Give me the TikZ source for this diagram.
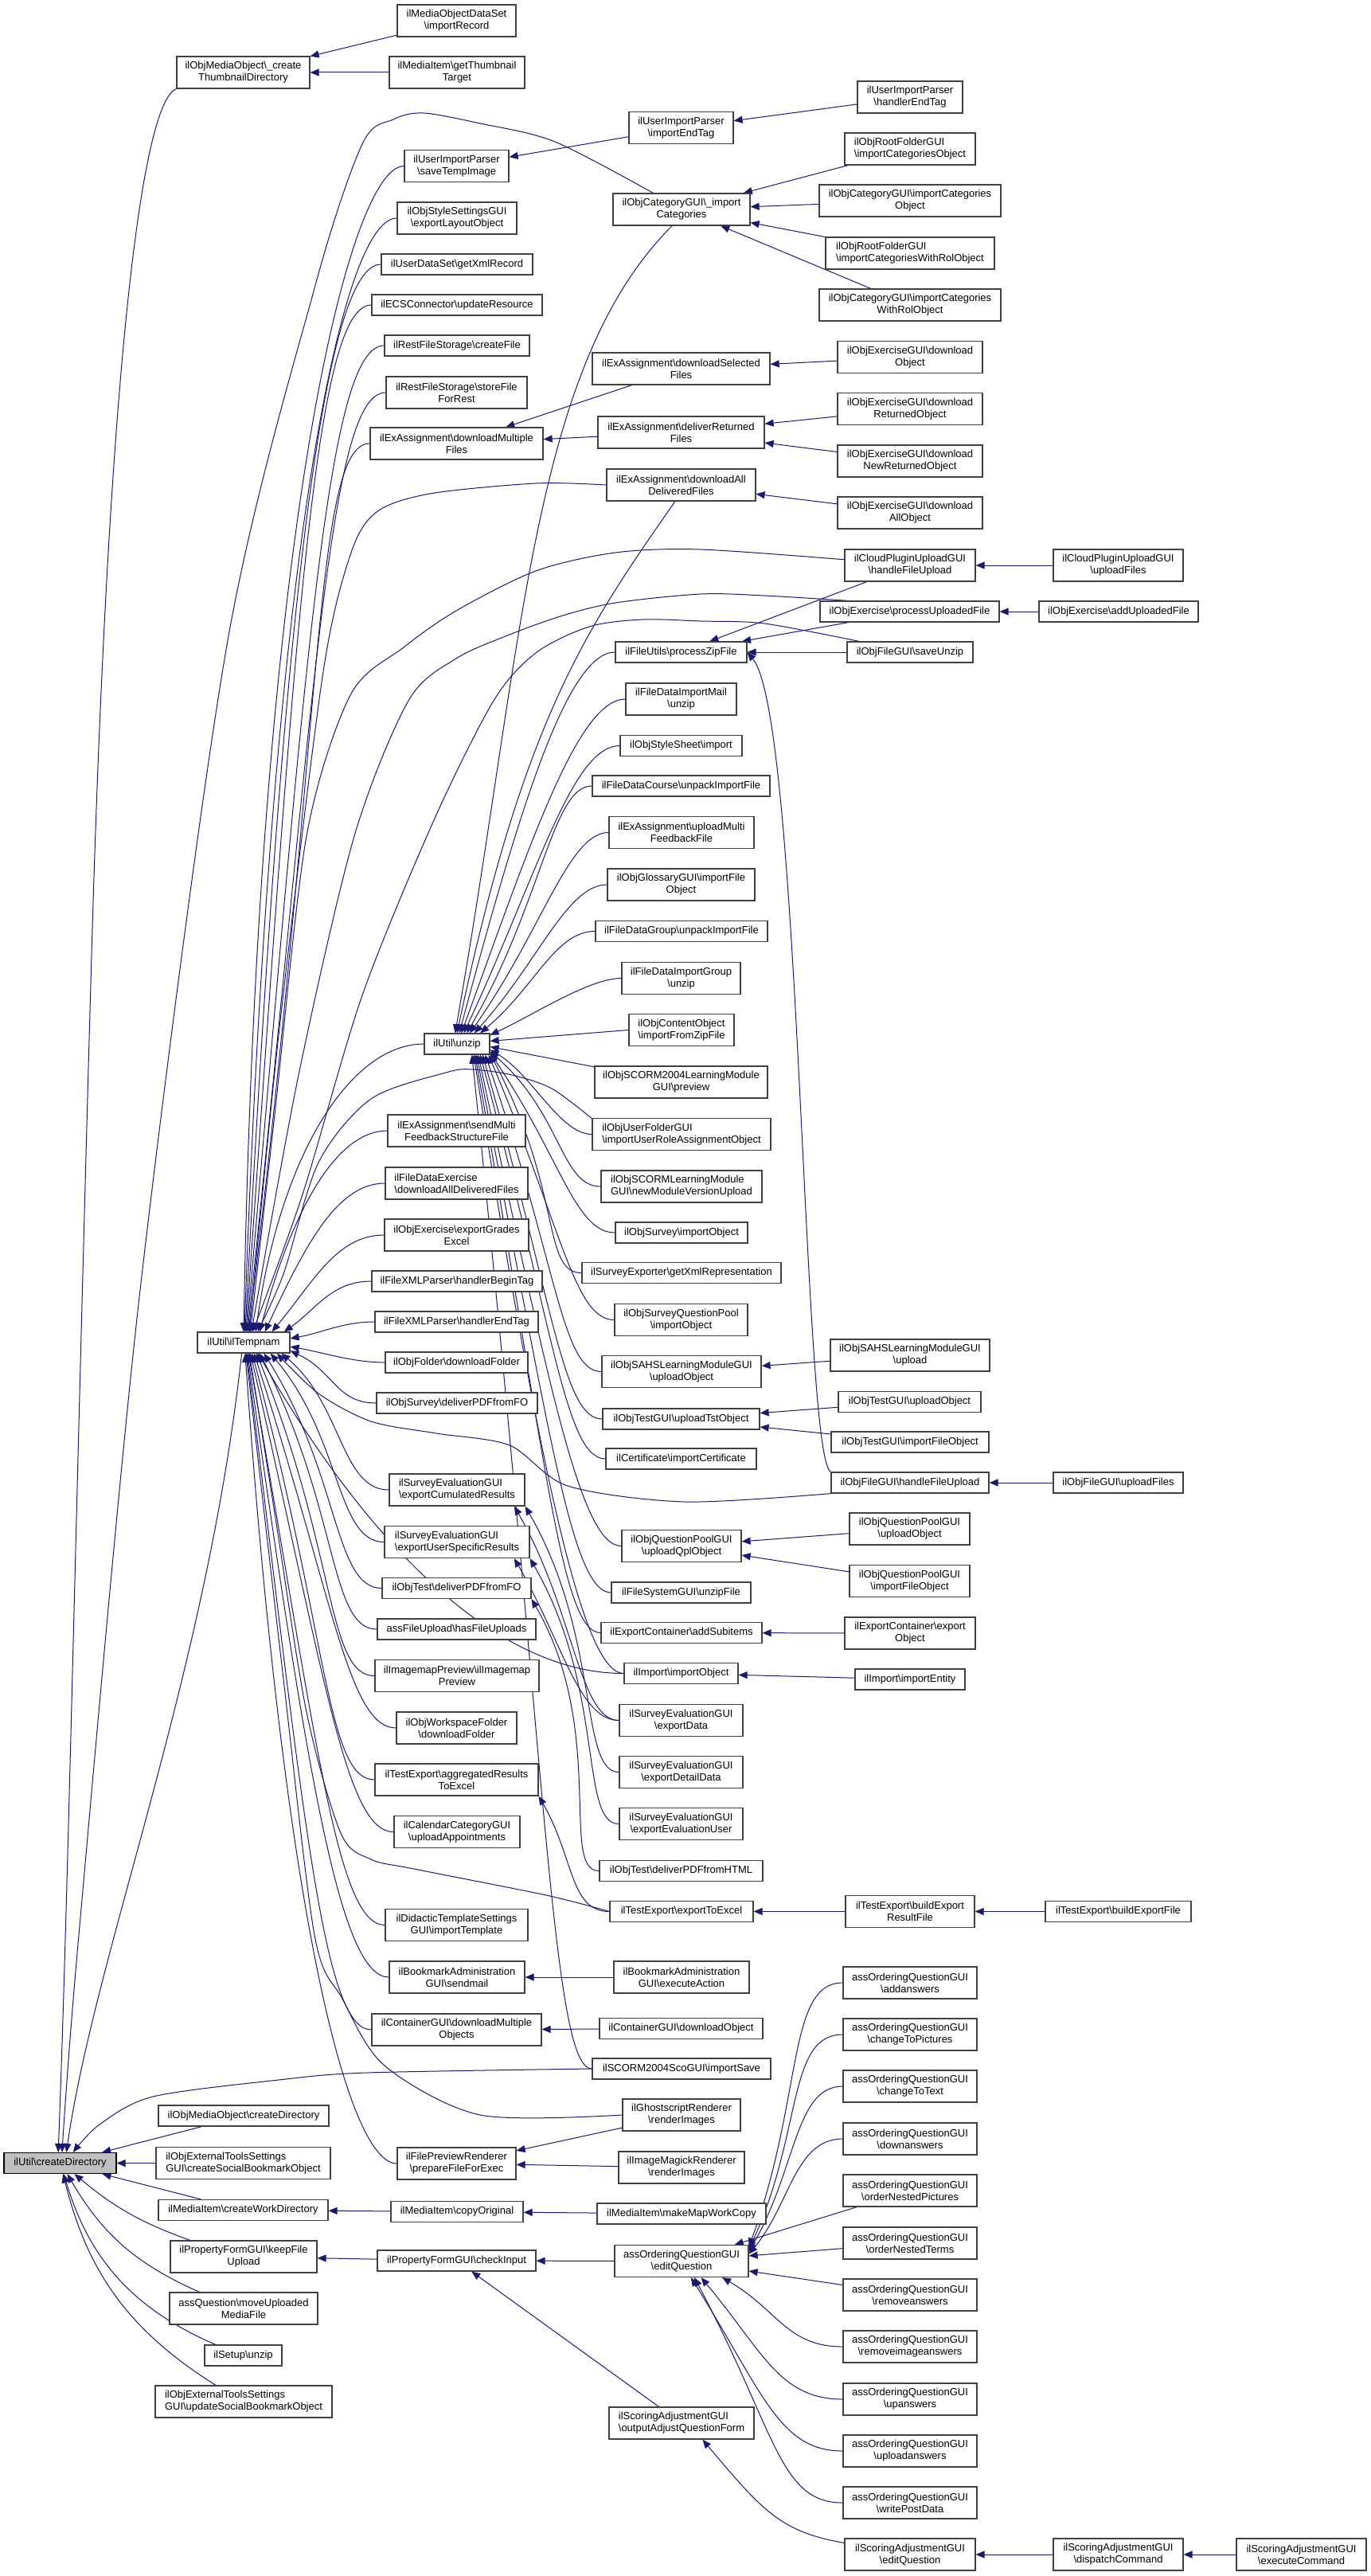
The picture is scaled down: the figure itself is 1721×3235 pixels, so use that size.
\documentclass[tikz,border=0pt]{standalone}
\usepackage{fontspec}
\setmainfont{Liberation Sans}
\usetikzlibrary{arrows.meta}
\definecolor{edgec}{HTML}{191970}
\definecolor{boxc}{HTML}{404040}
\definecolor{rootfill}{HTML}{BFBFBF}
\newcommand{\bk}{\textbackslash}
\newcommand{\ed}[6]{\draw[edg] (#1) .. controls +(#2:#4) and +(#3:#5) .. (#6);}
\pgfdeclarelayer{bg}
\pgfsetlayers{bg,main}
\begin{document}
\begin{tikzpicture}[x=1pt,y=1pt,
 box/.style={draw=boxc,line width=1.2pt,fill=white,inner sep=0pt,font=\fontsize{13}{15}\selectfont,align=center,text=black},
 b1/.style={box,minimum height=26pt},
 b2/.style={box,minimum height=40pt},
 lf/.style={align=left},
 edg/.style={draw=edgec,line width=1pt,-{Triangle[length=11pt,width=9pt]}}]
\useasboundingbox (0,0) rectangle (1721,-3235);
% ---------- col 0
\node[b1,minimum width=141pt,fill=rootfill,draw=black] (cd) at (75.5,-2716.5) {ilUtil\bk createDirectory};
% ---------- col 1
\node[b2,minimum width=167pt] (thumb) at (305.5,-91) {ilObjMediaObject\bk \_create\\ThumbnailDirectory};
\node[b1,minimum width=116pt] (tmp) at (306,-1686) {ilUtil\bk ilTempnam};
\node[b1,minimum width=214pt] (omcd) at (306,-2657) {ilObjMediaObject\bk createDirectory};
\node[b2,lf,minimum width=219pt] (csbo) at (305.5,-2716.5) {ilObjExternalToolsSettings\\GUI\bk createSocialBookmarkObject};
\node[b1,minimum width=213pt] (mwd) at (305.5,-2775.5) {ilMediaItem\bk createWorkDirectory};
\node[b2,minimum width=184pt] (kfu) at (306,-2834) {ilPropertyFormGUI\bk keepFile\\Upload};
\node[b2,minimum width=186pt] (qmu) at (306,-2899) {assQuestion\bk moveUploaded\\MediaFile};
\node[b1,minimum width=97pt] (suz) at (305.5,-2958) {ilSetup\bk unzip};
\node[b2,lf,minimum width=222pt] (usb) at (306,-3016) {ilObjExternalToolsSettings\\GUI\bk updateSocialBookmarkObject};
% ---------- col 2
\node[b2,minimum width=149pt] (mods) at (573.5,-26) {ilMediaObjectDataSet\\\bk importRecord};
\node[b2,minimum width=170pt] (gtt) at (574,-91) {ilMediaItem\bk getThumbnail\\Target};
\node[b2,minimum width=131pt] (sti) at (573.5,-208.5) {ilUserImportParser\\\bk saveTempImage};
\node[b2,minimum width=150pt] (elo) at (574,-274) {ilObjStyleSettingsGUI\\\bk exportLayoutObject};
\node[b1,minimum width=190pt] (gxr) at (574,-332) {ilUserDataSet\bk getXmlRecord};
\node[b1,minimum width=214pt] (ur) at (574,-383) {ilECSConnector\bk updateResource};
\node[b1,minimum width=182pt] (rcf) at (574,-434) {ilRestFileStorage\bk createFile};
\node[b2,minimum width=177pt] (rsf) at (573.5,-493) {ilRestFileStorage\bk storeFile\\ForRest};
\node[b2,minimum width=217pt] (dmf) at (573.5,-557) {ilExAssignment\bk downloadMultiple\\Files};
\node[b1,minimum width=82pt] (unz) at (574,-1311) {ilUtil\bk unzip};
\node[b2,minimum width=173pt] (smf) at (573.5,-1420) {ilExAssignment\bk sendMulti\\FeedbackStructureFile};
\node[b2,lf,minimum width=179pt] (fde) at (573.5,-1486) {ilFileDataExercise\\\bk downloadAllDeliveredFiles};
\node[b2,minimum width=181pt] (oeg) at (573.5,-1551) {ilObjExercise\bk exportGrades\\Excel};
\node[b1,minimum width=214pt] (xbt) at (574,-1609) {ilFileXMLParser\bk handlerBeginTag};
\node[b1,minimum width=205pt] (xet) at (573.5,-1660) {ilFileXMLParser\bk handlerEndTag};
\node[b1,minimum width=179pt] (ofd) at (573.5,-1711) {ilObjFolder\bk downloadFolder};
\node[b1,minimum width=202pt] (osp) at (574,-1762) {ilObjSurvey\bk deliverPDFfromFO};
\node[b2,lf,minimum width=170pt] (ecr) at (574,-1871) {ilSurveyEvaluationGUI\\\bk exportCumulatedResults};
\node[b2,lf,minimum width=182pt] (eus) at (574,-1936.5) {ilSurveyEvaluationGUI\\\bk exportUserSpecificResults};
\node[b1,minimum width=187pt] (otp) at (573.5,-1994.5) {ilObjTest\bk deliverPDFfromFO};
\node[b1,minimum width=199pt] (hfu) at (573.5,-2046) {assFileUpload\bk hasFileUploads};
\node[b2,minimum width=206pt] (imp) at (574,-2104.5) {ilImagemapPreview\bk ilImagemap\\Preview};
\node[b2,minimum width=151pt] (wfd) at (573.5,-2170) {ilObjWorkspaceFolder\\\bk downloadFolder};
\node[b2,minimum width=205pt] (are) at (573.5,-2235) {ilTestExport\bk aggregatedResults\\ToExcel};
\node[b2,minimum width=158pt] (cua) at (574,-2300.5) {ilCalendarCategoryGUI\\\bk uploadAppointments};
\node[b2,minimum width=179pt] (dti) at (573.5,-2417.5) {ilDidacticTemplateSettings\\GUI\bk importTemplate};
\node[b2,minimum width=170pt] (bsm) at (574,-2483) {ilBookmarkAdministration\\GUI\bk sendmail};
\node[b2,minimum width=213pt] (cdm) at (573.5,-2549) {ilContainerGUI\bk downloadMultiple\\Objects};
\node[b2,minimum width=149pt] (fpr) at (573.5,-2717) {ilFilePreviewRenderer\\\bk prepareFileForExec};
\node[b1,minimum width=166pt] (mco) at (574,-2777.5) {ilMediaItem\bk copyOriginal};
\node[b1,minimum width=199pt] (pci) at (573.5,-2839) {ilPropertyFormGUI\bk checkInput};
% ---------- col 3
\node[b2,minimum width=131pt] (iet) at (855.5,-160.5) {ilUserImportParser\\\bk importEndTag};
\node[b2,minimum width=172pt] (icat) at (856,-263) {ilObjCategoryGUI\bk \_import\\Categories};
\node[b2,minimum width=223pt] (dsf) at (855.5,-463) {ilExAssignment\bk downloadSelected\\Files};
\node[b2,minimum width=209pt] (drf) at (855.5,-543) {ilExAssignment\bk deliverReturned\\Files};
\node[b2,minimum width=187pt] (dad) at (855.5,-609) {ilExAssignment\bk downloadAll\\DeliveredFiles};
\node[b1,minimum width=165pt] (pzf) at (855.5,-819) {ilFileUtils\bk processZipFile};
\node[b2,minimum width=139pt] (dim) at (855.5,-878) {ilFileDataImportMail\\\bk unzip};
\node[b1,minimum width=153pt] (ssi) at (855.5,-936.5) {ilObjStyleSheet\bk import};
\node[b1,minimum width=223pt] (dcu) at (855.5,-987) {ilFileDataCourse\bk unpackImportFile};
\node[b2,minimum width=182pt] (umf) at (856,-1045.5) {ilExAssignment\bk uploadMulti\\FeedbackFile};
\node[b2,minimum width=185pt] (gif) at (855.5,-1111) {ilObjGlossaryGUI\bk importFile\\Object};
\node[b1,minimum width=216pt] (dgu) at (856,-1169.5) {ilFileDataGroup\bk unpackImportFile};
\node[b2,minimum width=149pt] (dig) at (855.5,-1228.5) {ilFileDataImportGroup\\\bk unzip};
\node[b2,lf,minimum width=132pt] (cfz) at (856,-1293.5) {ilObjContentObject\\\bk importFromZipFile};
\node[b2,minimum width=217pt] (s04) at (855.5,-1359) {ilObjSCORM2004LearningModule\\GUI\bk preview};
\node[b2,lf,minimum width=224pt] (ura) at (856,-1424.5) {ilObjUserFolderGUI\\\bk importUserRoleAssignmentObject};
\node[b2,lf,minimum width=202pt] (nmv) at (856,-1490) {ilObjSCORMLearningModule\\GUI\bk newModuleVersionUpload};
\node[b1,minimum width=166pt] (osi) at (856,-1548) {ilObjSurvey\bk importObject};
\node[b1,minimum width=250pt] (sxr) at (856,-1598.5) {ilSurveyExporter\bk getXmlRepresentation};
\node[b2,minimum width=167pt] (sqp) at (855.5,-1657.5) {ilObjSurveyQuestionPool\\\bk importObject};
\node[b2,minimum width=200pt] (sah) at (856,-1722.5) {ilObjSAHSLearningModuleGUI\\\bk uploadObject};
\node[b1,minimum width=197pt] (uto) at (855.5,-1782) {ilObjTestGUI\bk uploadTstObject};
\node[b1,minimum width=189pt] (cic) at (855.5,-1832) {ilCertificate\bk importCertificate};
\node[b2,minimum width=150pt] (uqp) at (856,-1941.5) {ilObjQuestionPoolGUI\\\bk uploadQplObject};
\node[b1,minimum width=175pt] (fsu) at (855.5,-2000) {ilFileSystemGUI\bk unzipFile};
\node[b1,minimum width=202pt] (eas) at (856,-2050.5) {ilExportContainer\bk addSubitems};
\node[b1,minimum width=143pt] (iio) at (855.5,-2101.5) {ilImport\bk importObject};
\node[b2,minimum width=155pt] (sed) at (855.5,-2160.5) {ilSurveyEvaluationGUI\\\bk exportData};
\node[b2,minimum width=155pt] (sdd) at (855.5,-2225.5) {ilSurveyEvaluationGUI\\\bk exportDetailData};
\node[b2,minimum width=155pt] (seu) at (855.5,-2290.5) {ilSurveyEvaluationGUI\\\bk exportEvaluationUser};
\node[b1,minimum width=205pt] (oth) at (855.5,-2349.5) {ilObjTest\bk deliverPDFfromHTML};
\node[b1,minimum width=180pt] (ete) at (856,-2400.5) {ilTestExport\bk exportToExcel};
\node[b2,minimum width=170pt] (bea) at (856,-2483) {ilBookmarkAdministration\\GUI\bk executeAction};
\node[b1,minimum width=205pt] (cdo) at (855.5,-2547.5) {ilContainerGUI\bk downloadObject};
\node[b1,minimum width=224pt] (sis) at (856,-2598) {ilSCORM2004ScoGUI\bk importSave};
\node[b2,minimum width=148pt] (grr) at (856,-2656) {ilGhostscriptRenderer\\\bk renderImages};
\node[b2,minimum width=158pt] (imr) at (856,-2722) {ilImageMagickRenderer\\\bk renderImages};
\node[b1,minimum width=212pt] (mmw) at (856,-2780) {ilMediaItem\bk makeMapWorkCopy};
\node[b2,minimum width=168pt] (aoe) at (856,-2839.5) {assOrderingQuestionGUI\\\bk editQuestion};
\node[b2,lf,minimum width=182pt] (oaq) at (856,-3043) {ilScoringAdjustmentGUI\\\bk outputAdjustQuestionForm};
% ---------- col 4
\node[b2,minimum width=132pt] (het) at (1143,-122) {ilUserImportParser\\\bk handlerEndTag};
\node[b2,lf,minimum width=164pt] (rco) at (1143,-187) {ilObjRootFolderGUI\\\bk importCategoriesObject};
\node[b2,minimum width=228pt] (cco) at (1143,-252) {ilObjCategoryGUI\bk importCategories\\Object};
\node[b2,lf,minimum width=212pt] (rcw) at (1143,-318) {ilObjRootFolderGUI\\\bk importCategoriesWithRolObject};
\node[b2,minimum width=228pt] (ccw) at (1143,-383) {ilObjCategoryGUI\bk importCategories\\WithRolObject};
\node[b2,minimum width=182pt] (edo) at (1143,-448.5) {ilObjExerciseGUI\bk download\\Object};
\node[b2,minimum width=182pt] (edr) at (1143,-513.5) {ilObjExerciseGUI\bk download\\ReturnedObject};
\node[b2,minimum width=182pt] (edn) at (1143,-579) {ilObjExerciseGUI\bk download\\NewReturnedObject};
\node[b2,minimum width=182pt] (eda) at (1143,-644) {ilObjExerciseGUI\bk download\\AllObject};
\node[b2,minimum width=164pt] (chf) at (1143,-710) {ilCloudPluginUploadGUI\\\bk handleFileUpload};
\node[b1,minimum width=225pt] (puf) at (1142.5,-768) {ilObjExercise\bk processUploadedFile};
\node[b1,minimum width=158pt] (osu) at (1143,-819) {ilObjFileGUI\bk saveUnzip};
\node[b2,minimum width=200pt] (sau) at (1143,-1702) {ilObjSAHSLearningModuleGUI\\\bk upload};
\node[b1,minimum width=179pt] (tuo) at (1142.5,-1760.5) {ilObjTestGUI\bk uploadObject};
\node[b1,minimum width=198pt] (tif) at (1143,-1811) {ilObjTestGUI\bk importFileObject};
\node[b1,minimum width=198pt] (fhu) at (1143,-1862) {ilObjFileGUI\bk handleFileUpload};
\node[b2,minimum width=151pt] (quo) at (1142.5,-1920) {ilObjQuestionPoolGUI\\\bk uploadObject};
\node[b2,minimum width=151pt] (qif) at (1142.5,-1985.5) {ilObjQuestionPoolGUI\\\bk importFileObject};
\node[b2,minimum width=164pt] (eco) at (1143,-2051) {ilExportContainer\bk export\\Object};
\node[b1,minimum width=138pt] (iie) at (1143,-2109) {ilImport\bk importEntity};
\node[b2,minimum width=162pt] (ber) at (1143,-2400.5) {ilTestExport\bk buildExport\\ResultFile};
\node[b2,minimum width=168pt] (ao1) at (1143,-2490) {assOrderingQuestionGUI\\\bk addanswers};
\node[b2,minimum width=168pt] (ao2) at (1143,-2555) {assOrderingQuestionGUI\\\bk changeToPictures};
\node[b2,minimum width=168pt] (ao3) at (1143,-2620) {assOrderingQuestionGUI\\\bk changeToText};
\node[b2,minimum width=168pt] (ao4) at (1143,-2686) {assOrderingQuestionGUI\\\bk downanswers};
\node[b2,minimum width=168pt] (ao5) at (1143,-2751) {assOrderingQuestionGUI\\\bk orderNestedPictures};
\node[b2,minimum width=168pt] (ao6) at (1143,-2817) {assOrderingQuestionGUI\\\bk orderNestedTerms};
\node[b2,minimum width=168pt] (ao7) at (1143,-2882) {assOrderingQuestionGUI\\\bk removeanswers};
\node[b2,minimum width=168pt] (ao8) at (1143,-2947) {assOrderingQuestionGUI\\\bk removeimageanswers};
\node[b2,minimum width=168pt] (ao9) at (1143,-3013) {assOrderingQuestionGUI\\\bk upanswers};
\node[b2,minimum width=168pt] (ao10) at (1143,-3078) {assOrderingQuestionGUI\\\bk uploadanswers};
\node[b2,minimum width=168pt] (ao11) at (1143,-3143) {assOrderingQuestionGUI\\\bk writePostData};
\node[b2,minimum width=164pt] (sae) at (1143,-3208) {ilScoringAdjustmentGUI\\\bk editQuestion};
% ---------- col 5
\node[b2,minimum width=163pt] (cuf) at (1404.5,-710) {ilCloudPluginUploadGUI\\\bk uploadFiles};
\node[b1,minimum width=200pt] (aup) at (1405,-768) {ilObjExercise\bk addUploadedFile};
\node[b1,minimum width=163pt] (fuf) at (1404.5,-1862) {ilObjFileGUI\bk uploadFiles};
\node[b1,minimum width=183pt] (bef) at (1404.5,-2400.5) {ilTestExport\bk buildExportFile};
\node[b2,minimum width=163pt] (sdc) at (1404.5,-3208) {ilScoringAdjustmentGUI\\\bk dispatchCommand};
% ---------- col 6
\node[b2,minimum width=163pt] (sec) at (1634.5,-3208) {ilScoringAdjustmentGUI\\\bk executeCommand};

\begin{pgfonlayer}{bg}
\fill[white] (0,0) rectangle (1721,-3235);
% ===== into createDirectory
\draw[edg] (thumb.south west) .. controls (175,-130) and (135,-500) .. (115,-1200) .. controls (95,-1900) and (85,-2400) .. (cd.100);
\draw[edg] plot[smooth,tension=0.5] coordinates {(icat.150) (697,-178) (603,-155) (532,-142) (494,-150) (455,-181) (395,-362) (285,-810) (176,-1620) (99,-2430) (cd.80)};
\draw[edg] (tmp.-100) .. controls (260,-2100) and (120,-2450) .. (cd.60);
\draw[edg] plot[smooth,tension=0.5] coordinates {(sis.west) (460,-2603) (350,-2612) (192,-2633) (125,-2668) (cd.40)};
\draw[edg] (omcd) -- (cd);
\draw[edg] (csbo) -- (cd);
\draw[edg] (mwd) -- (cd);
\draw[edg] (kfu) to[bend left=10] (cd);
\draw[edg] (qmu) to[bend left=18] (cd);
\draw[edg] (suz) to[bend left=25] (cd);
\draw[edg] (usb) to[bend left=22] (cd);
\draw[edg] (mods) -- (thumb);
\draw[edg] (gtt) -- (thumb);
% ===== into ilTempnam
\ed{sti.west}{180}{89}{70}{1000}{tmp.90}
\ed{elo.west}{180}{88}{70}{980}{tmp.86}
\ed{gxr.west}{180}{87}{70}{940}{tmp.82}
\ed{ur.west}{180}{86}{70}{900}{tmp.78}
\ed{rcf.west}{180}{85}{70}{870}{tmp.74}
\ed{rsf.west}{180}{84}{70}{830}{tmp.70}
\ed{dmf.west}{180}{83}{70}{780}{tmp.66}
\draw[edg] plot[smooth,tension=0.5] coordinates {(dad.west) (673,-607) (540,-620) (473,-643) (440,-697) (405,-850) (350,-1300) (tmp.62)};
\draw[edg] plot[smooth,tension=0.5] coordinates {(chf.175) (880,-690) (773,-694) (673,-717) (573,-767) (507,-813) (440,-873) (385,-1050) (345,-1400) (tmp.58)};
\draw[edg] plot[smooth,tension=0.5] coordinates {(puf.170) (960,-748) (880,-746) (773,-757) (707,-773) (640,-797) (573,-827) (513,-880) (445,-1050) (375,-1350) (tmp.54)};
\draw[edg] plot[smooth,tension=0.5] coordinates {(osu.168) (960,-783) (880,-780) (807,-778) (740,-787) (673,-820) (620,-880) (545,-1030) (455,-1250) (380,-1500) (tmp.50)};
\ed{unz.west}{180}{82}{90}{230}{tmp.42}
\draw[edg] plot[smooth,tension=0.5] coordinates {(ura.170) (693,-1367) (643,-1350) (593,-1343) (560,-1347) (466,-1380) (400,-1460) (356,-1600) (tmp.38)};
\ed{smf.west}{180}{75}{60}{170}{tmp.34}
\ed{fde.west}{180}{65}{60}{120}{tmp.27}
\ed{oeg.west}{180}{50}{60}{80}{tmp.21}
\ed{xbt.west}{180}{35}{50}{50}{tmp.15}
\ed{xet.west}{180}{10}{40}{40}{tmp.5}
\ed{ofd.west}{180}{-10}{40}{40}{tmp.-5}
\ed{osp.west}{180}{-25}{50}{60}{tmp.-10}
\ed{ecr.west}{180}{-40}{60}{100}{tmp.-16}
\ed{eus.west}{180}{-50}{60}{140}{tmp.-22}
\ed{otp.west}{180}{-58}{60}{180}{tmp.-28}
\ed{hfu.west}{180}{-63}{60}{220}{tmp.-34}
\draw[edg] plot[smooth,tension=0.5] coordinates {(fhu.south west) (860,-1886) (713,-1866) (640,-1815) (548,-1800) (466,-1785) (400,-1750) (tmp.-18)};
\ed{imp.west}{180}{-68}{60}{270}{tmp.-40}
\ed{iio.west}{180}{-60}{150}{300}{tmp.-37}
\ed{wfd.west}{180}{-72}{60}{320}{tmp.-46}
\ed{are.west}{180}{-75}{60}{370}{tmp.-52}
\ed{cua.west}{180}{-77}{60}{420}{tmp.-58}
\draw[edg] plot[smooth,tension=0.5] coordinates {(ete.west) (686,-2380) (520,-2347) (466,-2335) (428,-2302) (385,-2150) (345,-1900) (tmp.-62)};
\ed{dti.west}{180}{-80}{60}{500}{tmp.-66}
\ed{bsm.west}{180}{-82}{60}{550}{tmp.-70}
\ed{cdm.west}{180}{-83}{60}{600}{tmp.-74}
\draw[edg] plot[smooth,tension=0.5] coordinates {(grr.west) (603,-2656) (483,-2594) (430,-2510) (395,-2430) (355,-2100) (tmp.-78)};
\ed{fpr.west}{180}{-86}{60}{720}{tmp.-82}
% ===== into ilUtil::unzip
\ed{icat.-120}{-135}{80}{250}{500}{unz.100}
\ed{dad.-110}{-125}{78}{200}{400}{unz.90}
\ed{pzf.west}{180}{75}{60}{290}{unz.78}
\ed{dim.west}{180}{70}{60}{250}{unz.68}
\ed{ssi.west}{180}{65}{60}{220}{unz.58}
\ed{dcu.west}{180}{60}{50}{190}{unz.48}
\ed{umf.west}{180}{55}{50}{160}{unz.40}
\ed{gif.west}{180}{48}{50}{120}{unz.32}
\ed{dgu.west}{180}{40}{50}{90}{unz.25}
\ed{dig.west}{180}{25}{40}{60}{unz.15}
\draw[edg] (cfz.west) -- (unz.5);
\draw[edg] (s04.170) -- (unz.-5);
\ed{ura.west}{180}{-30}{40}{60}{unz.-10}
\ed{nmv.west}{180}{-41}{50}{120}{unz.-13}
\ed{osi.west}{180}{-56}{50}{160}{unz.-15}
\ed{sxr.west}{180}{-62}{50}{195}{unz.-17}
\ed{sqp.west}{180}{-67}{50}{236}{unz.-19}
\ed{sah.west}{180}{-71}{50}{280}{unz.-21}
\ed{uto.west}{180}{-74}{50}{323}{unz.-23}
\ed{cic.west}{180}{-75}{50}{358}{unz.-25}
\ed{uqp.west}{180}{-78}{50}{435}{unz.-27}
\ed{fsu.west}{180}{-79}{50}{476}{unz.-29}
\ed{eas.west}{180}{-80}{50}{511}{unz.-31}
\ed{iio.west}{180}{-81}{50}{547}{unz.-33}
\ed{sis.west}{180}{-84}{50}{895}{unz.-36}
% ===== neighbours
\draw[edg] (iet) -- (sti);
\draw[edg] (het) -- (iet);
\draw[edg] (rco) -- (icat);
\draw[edg] (cco) -- (icat);
\draw[edg] (rcw) -- (icat);
\draw[edg] (ccw) -- (icat);
\draw[edg] (dsf) -- (dmf);
\draw[edg] (drf) -- (dmf);
\draw[edg] (edo) -- (dsf);
\draw[edg] (edr) -- (drf);
\draw[edg] (edn) -- (drf);
\draw[edg] (eda) -- (dad);
\draw[edg] (cuf) -- (chf);
\draw[edg] (aup) -- (puf);
\draw[edg] (chf) -- (pzf);
\draw[edg] (puf) -- (pzf);
\draw[edg] (osu) -- (pzf);
\draw[edg] (fhu.north west) .. controls (1008,-1830) and (1006,-900) .. (pzf.east);
\draw[edg] (sau) -- (sah);
\draw[edg] (tuo) -- (uto);
\draw[edg] (tif) -- (uto);
\draw[edg] (fuf) -- (fhu);
\draw[edg] (quo) -- (uqp);
\draw[edg] (qif) -- (uqp);
\draw[edg] (eco) -- (eas);
\draw[edg] (iie) -- (iio);
\draw[edg] (ber) -- (ete);
\draw[edg] (bef) -- (ber);
\draw[edg] (bea) -- (bsm);
\draw[edg] (cdo) -- (cdm);
\draw[edg] (grr) -- (fpr);
\draw[edg] (imr) -- (fpr);
\draw[edg] (mmw) -- (mco);
\draw[edg] (mco) -- (mwd);
\draw[edg] (aoe) -- (pci);
\draw[edg] (pci) -- (kfu);
\draw[edg] (oaq) -- (pci);
\draw[edg] (sdc) -- (sae);
\draw[edg] (sec) -- (sdc);
\ed{sae.170}{170}{-50}{80}{120}{oaq.-38}
\ed{sed.west}{180}{-60}{50}{150}{ecr.-16}
\ed{sed.west}{180}{-60}{50}{120}{eus.-16}
\ed{sdd.west}{180}{-60}{50}{190}{ecr.south east}
\ed{seu.west}{180}{-60}{50}{190}{eus.south east}
\ed{oth.west}{180}{-60}{50}{190}{otp.south east}
\ed{ete.west}{180}{-60}{50}{90}{are.south east}
% ===== assOrdering -> editQuestion
\ed{ao1.west}{180}{70}{70}{200}{aoe.12}
\ed{ao2.west}{180}{65}{70}{160}{aoe.10}
\ed{ao3.west}{180}{60}{60}{120}{aoe.8}
\ed{ao4.west}{180}{50}{60}{80}{aoe.6}
\draw[edg] (ao5) -- (aoe);
\draw[edg] (ao6) -- (aoe);
\draw[edg] (ao7) -- (aoe);
\ed{ao8.west}{180}{-30}{70}{80}{aoe.-22}
\ed{ao9.west}{180}{-50}{80}{120}{aoe.-40}
\ed{ao10.west}{180}{-58}{80}{170}{aoe.-60}
\ed{ao11.west}{180}{-62}{80}{220}{aoe.-52}
\end{pgfonlayer}
\end{tikzpicture}
\end{document}
